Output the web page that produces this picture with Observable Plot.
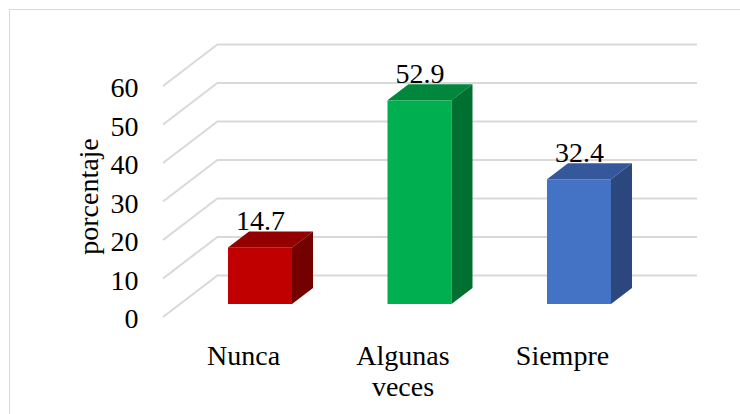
<!DOCTYPE html>
<html>
<head>
<meta charset="utf-8">
<script src="https://cdn.jsdelivr.net/npm/d3@7"></script>
<script src="https://cdn.jsdelivr.net/npm/@observablehq/plot@0.6"></script>
<style>
  html, body { margin: 0; padding: 0; background: #fff; }
  #wrap { position: relative; width: 740px; height: 414px; overflow: hidden; }
  #border { position: absolute; left: 9px; top: 9px; width: 800px; height: 500px;
            border-top: 1.5px solid #d9d9d9; border-left: 1.5px solid #d9d9d9; }
  #chart { position: absolute; left: 0; top: 0; }
  #chart svg text { font-family: "Liberation Serif", "Times New Roman", serif !important; }
</style>
</head>
<body>
<div id="wrap"><div id="border"></div><div id="chart"></div></div>
<script>
// ---- data ----
const categories = ["Nunca", "Algunas veces", "Siempre"];
const categoryLabels = ["Nunca", "Algunas\nveces", "Siempre"];
const values = [14.7, 52.9, 32.4];
const frontColors = ["#C00000", "#00B050", "#4472C4"];
const topColors = ["#930000", "#00873D", "#34589B"];
const sideColors = ["#740000", "#006F30", "#2B477D"];
const yTicks = [0, 10, 20, 30, 40, 50, 60];
const yTitle = "porcentaje";

const data = categories.map((c, i) => ({
  cat: c, label: categoryLabels[i], value: values[i],
  front: frontColors[i], top: topColors[i], side: sideColors[i]
}));

// 3D perspective offsets (pixels)
const WALL = {dx: 55, dy: -42};   // front floor edge -> back wall
const BARF = {dx: 17, dy: -13};   // front floor edge -> bar front face
const DEPTH = {dx: 21, dy: -16};  // bar front face -> bar back face

const FONT = "Liberation Serif";
const FS = 28;

// diagonal gridlines on the side wall
function sideWall(index, scales, vals, dims) {
  const y = scales.y;
  const x0 = dims.marginLeft;
  const g = d3.create("svg:g").attr("stroke", "#d9d9d9").attr("stroke-width", 2).attr("fill", "none");
  for (const t of yTicks) {
    g.append("path").attr("d", `M${x0},${y(t)}L${x0 + WALL.dx},${y(t) + WALL.dy}`);
  }
  return g.node();
}

// top and side faces of the 3D bars
function barFaces(index, scales) {
  const {x, y} = scales;
  const bw = x.bandwidth();
  const g = d3.create("svg:g");
  for (const d of data) {
    const x0 = x(d.cat) + BARF.dx, x1 = x0 + bw;
    const yt = y(d.value) + BARF.dy, yb = y(0) + BARF.dy;
    g.append("path")
      .attr("d", `M${x0},${yt}L${x1},${yt}L${x1 + DEPTH.dx},${yt + DEPTH.dy}L${x0 + DEPTH.dx},${yt + DEPTH.dy}Z`)
      .attr("fill", d.top);
    g.append("path")
      .attr("d", `M${x1},${yt}L${x1 + DEPTH.dx},${yt + DEPTH.dy}L${x1 + DEPTH.dx},${yb + DEPTH.dy}L${x1},${yb}Z`)
      .attr("fill", d.side);
  }
  return g.node();
}

const chart = Plot.plot({
  width: 740,
  height: 414,
  marginLeft: 163,
  marginRight: 98,
  marginTop: 86,
  marginBottom: 97,
  style: {fontFamily: FONT, fontSize: FS + "px", color: "#000", background: "transparent", overflow: "visible"},
  x: {type: "band", domain: categories, paddingInner: 0.5987, paddingOuter: 0.301, round: false, axis: null},
  y: {domain: [0, 60], axis: null},
  color: {type: "identity"},
  marks: [
    Plot.ruleY(yTicks, {dx: WALL.dx, dy: WALL.dy, stroke: "#d9d9d9", strokeWidth: 2}),
    sideWall,
    Plot.barY(data, {x: "cat", y: "value", fill: "front", dx: BARF.dx, dy: BARF.dy}),
    barFaces,
    Plot.text(data, {x: "cat", y: "value", text: d => d.value.toFixed(1), dx: BARF.dx, dy: BARF.dy + DEPTH.dy - 2,
      lineAnchor: "bottom", fontSize: FS, fontFamily: FONT, fill: "#000"}),
    Plot.text(data, {x: "cat", y: () => 0, text: "label", lineAnchor: "top", dy: 26, lineHeight: 1.1,
      fontSize: FS, fontFamily: FONT, fill: "#000"}),
    Plot.axisY(yTicks, {tickSize: 0, tickPadding: 25, fontSize: FS, fontFamily: FONT, dy: 2, label: null, tickFormat: d => String(d)}),
    Plot.text([yTitle], {frameAnchor: "left", text: d => d, rotate: -90, dx: -66, dy: -5.5,
      lineAnchor: "bottom", textAnchor: "middle", fontSize: FS, fontFamily: FONT, fill: "#000"})
  ]
});
document.getElementById("chart").appendChild(chart);
</script>
</body>
</html>
